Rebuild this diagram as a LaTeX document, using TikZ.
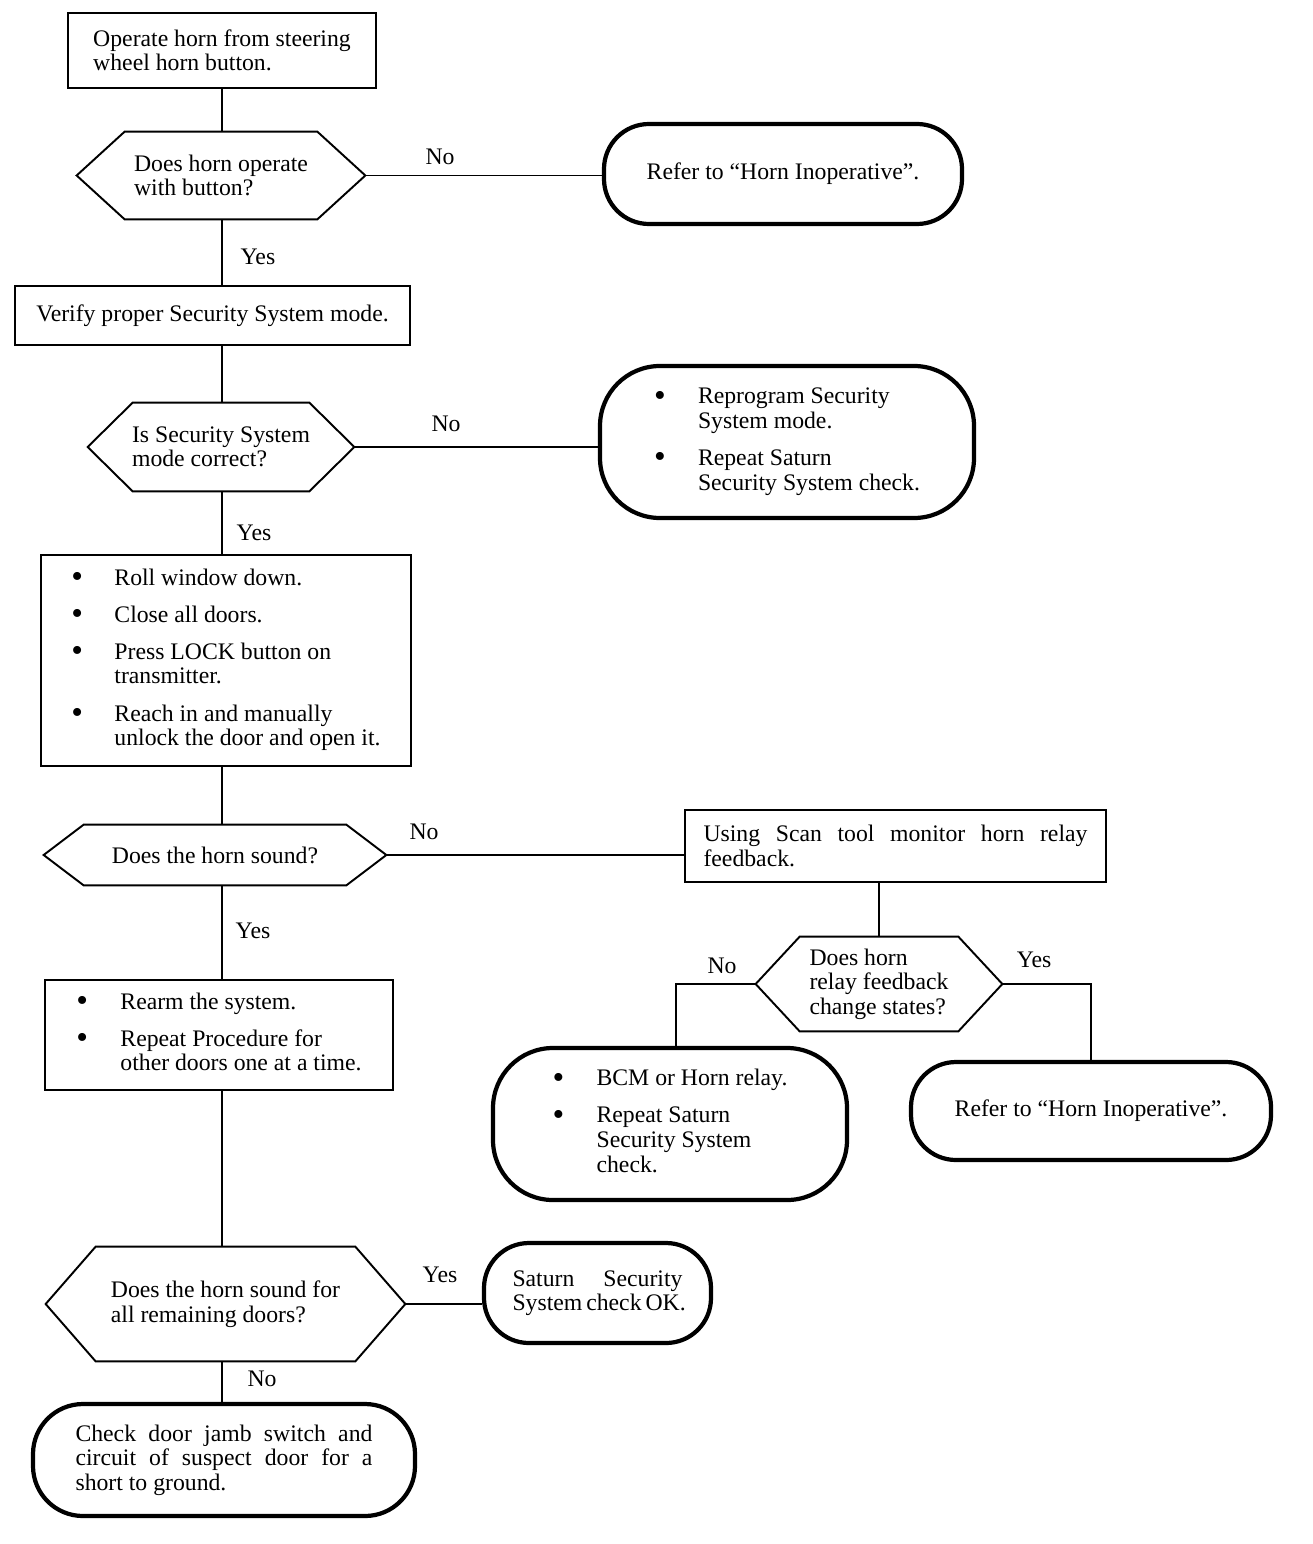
\documentclass[tikz,border=0pt]{standalone}
\usepackage{fontspec}
\setmainfont{Liberation Serif}
\usetikzlibrary{positioning,calc}
\newlength\pxu
\setlength\pxu{0.02cm}
\newcommand\bigdot{\raisebox{-0.1em}{\fontsize{19}{14}\selectfont\textbullet}}

\begin{document}
\begin{tikzpicture}[
  x=0.02cm, y=-0.02cm,
  every node/.style={font=\fontsize{13.5}{14}\selectfont},
  box/.style={draw, line width=1.1pt, align=left, inner sep=0pt},
  query/.style={align=left, inner sep=0pt},
  term/.style={draw, line width=2.4pt, align=left, inner sep=0pt},
  wire/.style={line width=1.1pt},
  lbl/.style={inner sep=1pt},
]
  \useasboundingbox (0,0) rectangle (1312,1544);
  \coordinate (trunk) at (222,0);

  % main column
  \node[box, minimum width=308*\pxu, minimum height=75*\pxu] (start) at (222,50.5)
    {Operate horn from steering\\wheel horn button.};
  \node[query, minimum width=288*\pxu, minimum height=87*\pxu] (q1) at (221,175.5)
    {Does horn operate\\with button?};
  \node[box, minimum width=395*\pxu, minimum height=59*\pxu] (verify) at (212.5,315.5)
    {Verify proper Security System mode.};
  \node[query, minimum width=266*\pxu, minimum height=88*\pxu] (q2) at (221,447)
    {Is Security System\\mode correct?};
  \node[box, minimum width=370*\pxu, minimum height=211*\pxu] (steps) at (226,660.5)
    {\begin{tabular}{@{}p{0.86cm}@{}l@{}}
      \bigdot & Roll window down.\\[0.25cm]
      \bigdot & Close all doors.\\[0.25cm]
      \bigdot & Press LOCK button on\\
              & transmitter.\\[0.25cm]
      \bigdot & Reach in and manually\\
              & unlock the door and open it.
     \end{tabular}};
  \node[query, minimum width=342*\pxu, minimum height=60*\pxu] (q3) at (215,855)
    {Does the horn sound?};
  \node[box, minimum width=348*\pxu, minimum height=110*\pxu] (rearm) at (219,1035)
    {\begin{tabular}{@{}p{0.88cm}@{}l@{}}
      \bigdot & Rearm the system.\\[0.25cm]
      \bigdot & Repeat Procedure for\\
              & other doors one at a time.
     \end{tabular}};
  \node[query, minimum width=359*\pxu, minimum height=114*\pxu] (q5) at (225.5,1304)
    {Does the horn sound for\\all remaining doors?};
  \node[term, rounded corners=1cm, minimum width=382*\pxu, minimum height=112*\pxu] (jamb) at (224,1460)
    {\makebox[5.94cm][s]{Check door jamb switch and}\\
     \makebox[5.94cm][s]{circuit of suspect door for a}\\
     short to ground.};

  % right side
  \node[term, rounded corners=0.9cm, minimum width=358*\pxu, minimum height=100*\pxu] (inop1) at (783,174)
    {Refer to “Horn Inoperative”.};
  \node[term, rounded corners=1.2cm, minimum width=374*\pxu, minimum height=152*\pxu] (reprog) at (787,442)
    {\begin{tabular}{@{}p{0.88cm}@{}l@{}}
      \bigdot & Reprogram Security\\
              & System mode.\\[0.25cm]
      \bigdot & Repeat Saturn\\
              & Security System check.
     \end{tabular}};
  \node[box, minimum width=421*\pxu, minimum height=72*\pxu] (scan) at (895.5,846)
    {\makebox[7.68cm][s]{Using Scan tool monitor horn relay}\\feedback.};
  \node[query, minimum width=246*\pxu, minimum height=94*\pxu] (q4) at (879,984)
    {Does horn\\relay feedback\\change states?};
  \node[term, rounded corners=1.2cm, minimum width=354*\pxu, minimum height=152*\pxu] (bcm) at (670,1124)
    {\begin{tabular}{@{}p{0.88cm}@{}l@{}}
      \bigdot & BCM or Horn relay.\\[0.25cm]
      \bigdot & Repeat Saturn\\
              & Security System\\
              & check.
     \end{tabular}};
  \node[term, rounded corners=0.9cm, minimum width=360*\pxu, minimum height=98*\pxu] (inop2) at (1091,1111)
    {Refer to “Horn Inoperative”.};
  \node[term, rounded corners=0.9cm, minimum width=227*\pxu, minimum height=100*\pxu] (ok) at (597.5,1293)
    {\makebox[3.4cm][s]{Saturn Security}\\\makebox[3.4cm][s]{System check OK.}};

  % hexagon outlines
  \foreach \q/\s in {q1/48, q2/45, q3/40, q4/44, q5/50}
    \draw[wire] (\q.west) -- ($(\q.north west)+(\s,0)$) -- ($(\q.north east)+(-\s,0)$)
      -- (\q.east) -- ($(\q.south east)+(-\s,0)$) -- ($(\q.south west)+(\s,0)$) -- cycle;

  % connectors
  \draw[wire] (start.south -| trunk) -- (q1.north -| trunk);
  \draw[wire] (q1.south -| trunk) -- (verify.north -| trunk);
  \draw[wire] (verify.south -| trunk) -- (q2.north -| trunk);
  \draw[wire] (q2.south -| trunk) -- (steps.north -| trunk);
  \draw[wire] (steps.south -| trunk) -- (q3.north -| trunk);
  \draw[wire] (q3.south -| trunk) -- (rearm.north -| trunk);
  \draw[wire] (rearm.south -| trunk) -- (q5.north -| trunk);
  \draw[wire] (q5.south -| trunk) -- (jamb.north -| trunk);
  \draw[wire] (q1.east) -- (q1.east -| inop1.west);
  \draw[wire] (q2.east) -- (q2.east -| reprog.west);
  \draw[wire] (q3.east) -- (q3.east -| scan.west);
  \draw[wire] (q4.north |- scan.south) -- (q4.north);
  \draw[wire] (q4.west) -| ([xshift=6*\pxu]bcm.north);
  \draw[wire] (q4.east) -| (inop2.north);
  \draw[wire] (q5.east) -- (q5.east -| ok.west);

  % branch labels
  \node[lbl] (no1) at (440,157) {No};
  \node[lbl] (yes1) at (258,257) {Yes};
  \node[lbl] (no2) at (446,424) {No};
  \node[lbl] (yes2) at (254,533) {Yes};
  \node[lbl] (no3) at (424,832) {No};
  \node[lbl] (yes3) at (253,931) {Yes};
  \node[lbl] (no4) at (722,966) {No};
  \node[lbl] (yes4) at (1034,960) {Yes};
  \node[lbl] (yes5) at (440,1275) {Yes};
  \node[lbl] (no5) at (262,1379) {No};
\end{tikzpicture}
\end{document}
